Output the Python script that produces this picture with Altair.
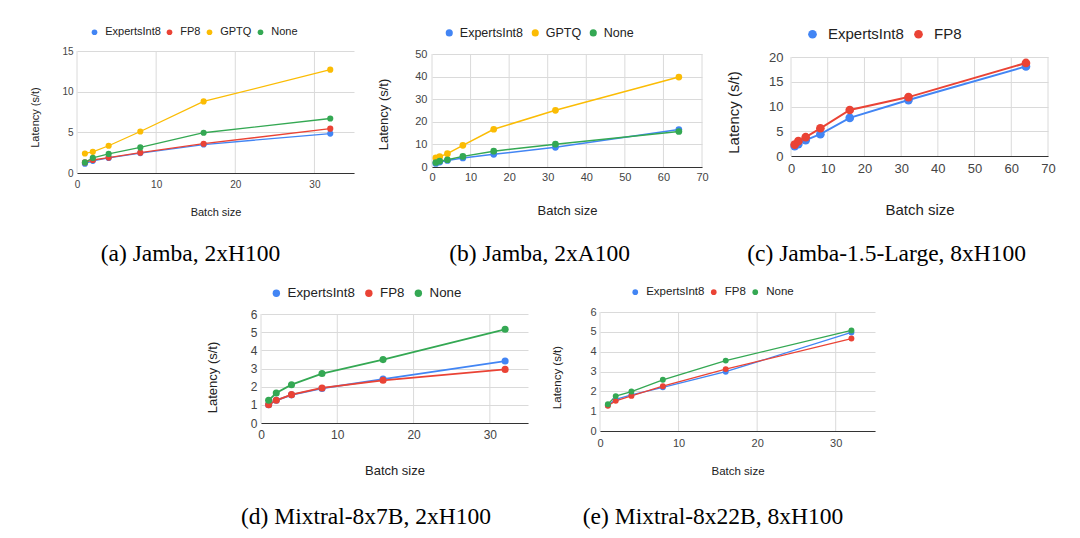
import altair as alt
import pandas as pd

COLORS = {"ExpertsInt8": "#4285F4", "FP8": "#EA4335", "GPTQ": "#FBBC04", "None": "#34A853"}

# (a) Jamba, 2xH100
A_X = [1, 2, 4, 8, 16, 32]
A_EXPERTS = [1.15, 1.5, 1.85, 2.45, 3.5, 4.85]
A_FP8 = [1.3, 1.6, 1.9, 2.5, 3.6, 5.45]
A_GPTQ = [2.4, 2.6, 3.35, 5.1, 8.8, 12.7]
A_NONE = [1.3, 1.85, 2.35, 3.15, 4.95, 6.7]

# (b) Jamba, 2xA100
B_X = [1, 2, 4, 8, 16, 32, 64]
B_EXPERTS = [1.6, 2.2, 2.9, 4.0, 5.6, 8.7, 16.6]
B_GPTQ = [4.0, 4.6, 5.9, 9.6, 16.7, 25.1, 39.8]
B_NONE = [2.0, 2.6, 3.2, 4.7, 7.0, 10.1, 15.7]

# (c) Jamba-1.5-Large, 8xH100
C_X = [1, 2, 4, 8, 16, 32, 64]
C_EXPERTS = [2.0, 2.4, 3.2, 4.4, 7.7, 11.3, 18.1]
C_FP8 = [2.3, 3.0, 3.8, 5.6, 9.3, 11.9, 18.8]

# (d) Mixtral-8x7B, 2xH100
D_X = [1, 2, 4, 8, 16, 32]
D_EXPERTS = [1.0, 1.25, 1.55, 1.9, 2.42, 3.41]
D_FP8 = [1.01, 1.25, 1.56, 1.93, 2.35, 2.95]
D_NONE = [1.25, 1.65, 2.11, 2.72, 3.49, 5.16]

# (e) Mixtral-8x22B, 8xH100
E_X = [1, 2, 4, 8, 16, 32]
E_EXPERTS = [1.3, 1.59, 1.82, 2.2, 2.99, 4.97]
E_FP8 = [1.27, 1.52, 1.77, 2.26, 3.12, 4.66]
E_NONE = [1.35, 1.76, 1.99, 2.58, 3.55, 5.07]

CAPTIONS = ["(a) Jamba, 2xH100", "(b) Jamba, 2xA100", "(c) Jamba-1.5-Large, 8xH100",
            "(d) Mixtral-8x7B, 2xH100", "(e) Mixtral-8x22B, 8xH100"]

X_TICKS_35 = [0, 10, 20, 30]
X_TICKS_70 = [0, 10, 20, 30, 40, 50, 60, 70]

SANS = "Liberation Sans"
SERIF = "Liberation Serif"
GRID = "#dadada"

spacer_df = pd.DataFrame({"s": [0]})


def spacer(w, h):
    return alt.Chart(spacer_df).mark_point(opacity=0, size=0, strokeWidth=0).properties(
        width=w, height=h)


def panel(xs, series, caption, st):
    names = list(series.keys())
    rows = []
    for name in names:
        for x, v in zip(xs, series[name]):
            rows.append({"batch": x, "latency": v, "series": name, "hex": COLORS[name]})
    df = pd.DataFrame(rows)
    top, h = st["top"], st["h"]
    cscale = alt.Scale(domain=names, range=[COLORS[n] for n in names])
    xscale = alt.Scale(domain=[0, st["xmax"]], nice=False, zero=True)
    yscale = alt.Scale(domain=[0, st["ymax"]], nice=False, range=[top + h, top])
    xaxis = alt.Axis(values=st["xticks"], grid=False, domain=True, domainColor="#333333",
                     ticks=False, labelFlush=False, labelFontSize=st["tick"], labelColor="#444444",
                     labelPadding=st["xlp"], labelFont=SANS, title="Batch size", titleFont=SANS,
                     titleFontSize=st["title"], titleFontWeight="normal", titleColor="#222222",
                     titleY=st["xty"], titleBaseline="middle")
    yaxis = alt.Axis(values=st["yticks"], grid=True, gridColor=GRID, domain=False, ticks=False,
                     labelFlush=False, labelFontSize=st["tick"], labelColor="#444444",
                     labelPadding=st["ylp"], labelFont=SANS, title="Latency (s/t)", titleFont=SANS,
                     titleFontSize=st["title"], titleFontWeight="normal", titleColor="#222222",
                     titleX=st["ytx"], titleY=st["yty"], titleBaseline="middle")
    grid_df = pd.DataFrame({"batch": st["xticks"]})
    vgrid = alt.Chart(grid_df).mark_rule(color=GRID, strokeWidth=1).encode(
        x=alt.X("batch:Q", scale=xscale, axis=xaxis),
        y=alt.Y(datum=st["ymax"], scale=yscale, axis=yaxis),
        y2=alt.Y2(datum=0))
    base = alt.Chart(df).encode(
        x=alt.X("batch:Q", scale=xscale, axis=xaxis),
        y=alt.Y("latency:Q", scale=yscale, axis=yaxis))
    lines = base.mark_line(strokeWidth=st["lw"]).encode(
        stroke=alt.Stroke("hex:N", scale=None), detail="series:N")
    points = base.mark_circle(size=st["ps"], opacity=1).encode(
        color=alt.Color("series:N", scale=cscale, sort=names,
                        legend=alt.Legend(orient="none", legendX=st["lgx"], legendY=st["lgy"],
                                          direction="horizontal", title=None, padding=0,
                                          labelFont=SANS, labelFontSize=st["leg"],
                                          labelColor="#222222", symbolType="circle",
                                          symbolSize=st["ls"], labelOffset=st["lo"],
                                          columnPadding=st["cp"])))
    return alt.layer(vgrid, lines, points).properties(
        width=st["w"], height=top + h,
        title=alt.TitleParams(caption, orient="bottom", anchor="middle", frame="bounds",
                              font=SERIF, fontSize=23.5, fontWeight="normal", color="#000000",
                              offset=st["cap"], dx=st["cdx"]))


# row 1 origin is page (8, 8); row 2 origin is page (8, 278)
pa = panel(A_X, {"ExpertsInt8": A_EXPERTS, "FP8": A_FP8, "GPTQ": A_GPTQ, "None": A_NONE}, CAPTIONS[0],
           dict(w=277, h=122, top=43, xmax=35, xticks=X_TICKS_35, ymax=15, yticks=[0, 5, 10, 15],
                tick=10, title=11, leg=11, xlp=6, ylp=4, xty=39, ytx=-42, yty=109, lw=1.3, ps=38,
                ls=32, lgx=12, lgy=18.5, lo=5.2, cp=3, cap=25, cdx=-1))
pb = panel(B_X, {"ExpertsInt8": B_EXPERTS, "GPTQ": B_GPTQ, "None": B_NONE}, CAPTIONS[1],
           dict(w=270, h=113, top=46, xmax=70, xticks=X_TICKS_70, ymax=50,
                yticks=[0, 10, 20, 30, 40, 50], tick=11, title=13, leg=12.5, xlp=4.5, ylp=5,
                xty=43, ytx=-49, yty=106, lw=1.5, ps=45, ls=50, lgx=11, lgy=18.5, lo=4.3, cp=5,
                cap=25, cdx=-3))
pc = panel(C_X, {"ExpertsInt8": C_EXPERTS, "FP8": C_FP8}, CAPTIONS[2],
           dict(w=257, h=99, top=49, xmax=70, xticks=X_TICKS_70, ymax=20, yticks=[0, 5, 10, 15, 20],
                tick=13, title=15, leg=15, xlp=6.5, ylp=8, xty=53, ytx=-58, yty=104, lw=2, ps=75,
                ls=75, lgx=14, lgy=18.5, lo=8, cp=7, cap=25, cdx=-4))
pd_ = panel(D_X, {"ExpertsInt8": D_EXPERTS, "FP8": D_FP8, "None": D_NONE}, CAPTIONS[3],
            dict(w=267, h=109, top=36, xmax=35, xticks=X_TICKS_35, ymax=6,
                 yticks=[0, 1, 2, 3, 4, 5, 6], tick=12, title=13, leg=13.3, xlp=6, ylp=4, xty=47,
                 ytx=-49, yty=99, lw=1.8, ps=50, ls=55, lgx=8.7, lgy=8.5, lo=4.6, cp=6.5, cap=28,
                 cdx=-1))
pe = panel(E_X, {"ExpertsInt8": E_EXPERTS, "FP8": E_FP8, "None": E_NONE}, CAPTIONS[4],
           dict(w=275, h=119, top=34, xmax=35, xticks=X_TICKS_35, ymax=6,
                yticks=[0, 1, 2, 3, 4, 5, 6], tick=11, title=11.5, leg=11.5, xlp=6, ylp=4, xty=40,
                ytx=-43, yty=99, lw=1.3, ps=35, ls=32, lgx=29.5, lgy=8, lo=5.2, cp=3.5, cap=28,
                cdx=0))

row1 = alt.hconcat(spacer(69, 270), pa, spacer(78, 1), pb, spacer(89, 1), pc,
                   spacing=0, bounds="flush").resolve_scale(color="independent"
                                                           ).resolve_legend(color="independent")
row2 = alt.hconcat(spacer(253, 1), pd_, spacer(72, 1), pe,
                   spacing=0, bounds="flush").resolve_scale(color="independent"
                                                           ).resolve_legend(color="independent")

chart = alt.vconcat(row1, row2, spacing=0, padding=0, background="white").resolve_scale(
    color="independent").resolve_legend(color="independent").configure_view(stroke=None)

chart.save("out.html", embed_options={"renderer": "svg", "actions": False})
